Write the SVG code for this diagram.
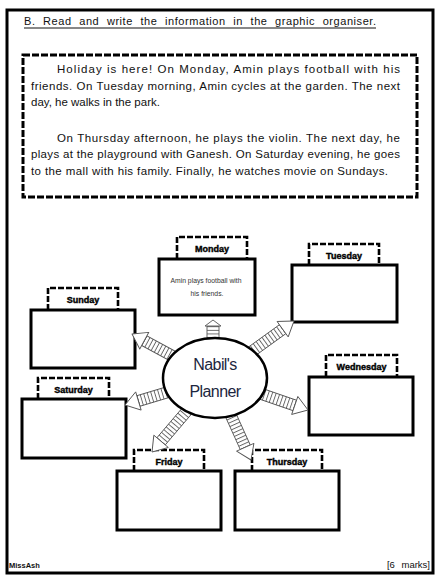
<svg xmlns="http://www.w3.org/2000/svg" width="442" height="583" viewBox="0 0 442 583">
<style>
.frame{fill:#fff;stroke:#000;stroke-width:3}
.tbox{fill:none;stroke:#000;stroke-width:3;stroke-dasharray:7 2}
.box{fill:#fff;stroke:#000;stroke-width:3}
.lbl{fill:none;stroke:#000;stroke-width:2.6;stroke-dasharray:6 2}
.day{font-family:"Liberation Sans",Arial,sans-serif;font-size:9px;font-weight:bold;fill:#000;stroke:#000;stroke-width:0.4;text-anchor:middle}
.para{font-family:"Liberation Sans",Arial,sans-serif;font-size:11.5px;fill:#111}
.title{font-family:"Liberation Sans",Arial,sans-serif;font-size:11px;fill:#111}
.small{font-family:"Liberation Sans",Arial,sans-serif;font-size:6.8px;fill:#333;text-anchor:middle}
.hub{font-family:"Liberation Sans",Arial,sans-serif;font-size:16px;fill:#1c2640;text-anchor:middle;letter-spacing:-0.6px}
.arr{fill:#fff;stroke:#555;stroke-width:0.9;stroke-linejoin:round}
.shaft{fill:url(#stripes);stroke:#555;stroke-width:0.9}
</style>
<defs>
<pattern id="stripes" patternUnits="userSpaceOnUse" width="3.6" height="12" x="0" y="0">
<rect width="3.6" height="12" fill="#fff"/>
<line x1="0.5" y1="0" x2="0.5" y2="12" stroke="#555" stroke-width="0.9"/>
</pattern>
</defs>
<rect class="frame" x="7" y="10" width="426" height="563"/>
<g id="title">
<text class="title" x="24" y="25" textLength="352" lengthAdjust="spacing" word-spacing="4">B. Read and write the information in the graphic organiser.</text>
<line x1="24" y1="28" x2="376" y2="28" stroke="#111" stroke-width="1"/>
</g>
<g id="story">
<rect class="tbox" x="23" y="55" width="394" height="142"/>
<text class="para" x="57" y="73" textLength="343" lengthAdjust="spacing">Holiday is here! On Monday, Amin plays football with his</text>
<text class="para" x="31" y="89.5" textLength="369" lengthAdjust="spacing">friends. On Tuesday morning, Amin cycles at the garden. The next</text>
<text class="para" x="31" y="105.5">day, he walks in the park.</text>
<text class="para" x="57" y="141.5" textLength="343" lengthAdjust="spacing">On Thursday afternoon, he plays the violin. The next day, he</text>
<text class="para" x="31" y="158" textLength="369" lengthAdjust="spacing">plays at the playground with Ganesh. On Saturday evening, he goes</text>
<text class="para" x="31" y="174.5" textLength="357" lengthAdjust="spacing">to the mall with his family. Finally, he watches movie on Sundays.</text>
</g>
<g id="monday">
<path class="lbl" d="M177,259 V237 H247 V259"/>
<text class="day" x="212" y="252">Monday</text>
<rect class="box" x="159" y="259" width="96" height="56"/>
<text class="small" x="206" y="283">Amin plays football with</text>
<text class="small" x="207" y="296">his friends.</text>
</g>
<g id="tuesday">
<path class="lbl" d="M309,265 V244 H379 V265"/>
<text class="day" x="344" y="258.5">Tuesday</text>
<rect class="box" x="292" y="265" width="105" height="57"/>
</g>
<g id="sunday">
<path class="lbl" d="M48,310 V288 H118 V310"/>
<text class="day" x="83" y="303">Sunday</text>
<rect class="box" x="31" y="310" width="104" height="58"/>
</g>
<g id="wednesday">
<path class="lbl" d="M326,377 V355 H397 V377"/>
<text class="day" x="361.5" y="370">Wednesday</text>
<rect class="box" x="309" y="377" width="104" height="58"/>
</g>
<g id="saturday">
<path class="lbl" d="M38,399 V378 H109 V399"/>
<text class="day" x="73.5" y="393">Saturday</text>
<rect class="box" x="22" y="399" width="104" height="59"/>
</g>
<g id="friday">
<path class="lbl" d="M134,471 V450 H204 V471"/>
<text class="day" x="169" y="465">Friday</text>
<rect class="box" x="117" y="471" width="104" height="59"/>
</g>
<g id="thursday">
<path class="lbl" d="M252,471 V450 H322 V471"/>
<text class="day" x="287" y="465">Thursday</text>
<rect class="box" x="235" y="471" width="104" height="59"/>
</g>
<g id="connectors">
<g transform="translate(213,320) rotate(-90)">
<rect class="shaft" x="-24" y="-6" width="18" height="12"/>
<path class="arr" d="M0,0 L-6,-8 L-6,8 Z"/>
</g>
<g transform="translate(132,334) rotate(-151.5)">
<rect class="shaft" x="-51" y="-5.5" width="37" height="11"/>
<path class="arr" d="M0,0 L-14,-9.5 L-14,9.5 Z"/>
</g>
<g transform="translate(294,321) rotate(-35.8)">
<rect class="shaft" x="-55" y="-5.5" width="41" height="11"/>
<path class="arr" d="M0,0 L-14,-9.5 L-14,9.5 Z"/>
</g>
<g transform="translate(125,405) rotate(163.3)">
<rect class="shaft" x="-48" y="-5.5" width="34" height="11"/>
<path class="arr" d="M0,0 L-14,-9.5 L-14,9.5 Z"/>
</g>
<g transform="translate(308,410) rotate(19)">
<rect class="shaft" x="-53" y="-5.5" width="39" height="11"/>
<path class="arr" d="M0,0 L-14,-9.5 L-14,9.5 Z"/>
</g>
<g transform="translate(152,452) rotate(130.4)">
<rect class="shaft" x="-58" y="-5.5" width="44" height="11"/>
<path class="arr" d="M0,0 L-14,-9.5 L-14,9.5 Z"/>
</g>
<g transform="translate(251,460) rotate(65.7)">
<rect class="shaft" x="-54" y="-5.5" width="40" height="11"/>
<path class="arr" d="M0,0 L-14,-9.5 L-14,9.5 Z"/>
</g>
</g>
<g id="hub">
<ellipse cx="215" cy="378" rx="52" ry="40" fill="#fff" stroke="#000" stroke-width="2.5"/>
<text class="hub" x="215" y="370">Nabil's</text>
<text class="hub" x="215" y="397">Planner</text>
</g>
<g id="footer">
<text x="9" y="568" font-family="Liberation Sans,Arial,sans-serif" font-size="7.5" font-weight="bold" fill="#111">MissAsh</text>
<text x="430" y="568" font-family="Liberation Sans,Arial,sans-serif" font-size="9.5" fill="#111" text-anchor="end" word-spacing="4">[6 marks]</text>
</g>
</svg>
